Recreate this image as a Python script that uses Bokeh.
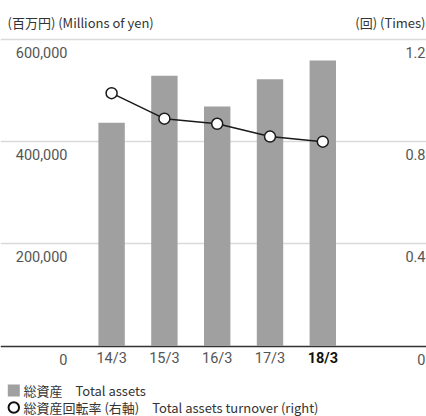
from bokeh.plotting import figure
from bokeh.models import Range1d, ColumnDataSource
from bokeh.core.properties import value
from bokeh.embed import file_html
from bokeh.resources import INLINE

# ---- data ----
categories = ["14/3", "15/3", "16/3", "17/3", "18/3"]
total_assets = [437000, 529000, 469000, 522000, 559000]
turnover = [0.99, 0.89, 0.87, 0.82, 0.80]
left_ticks = [0, 200000, 400000, 600000]
left_labels = ["0", "200,000", "400,000", "600,000"]
right_ticks = [0, 0.4, 0.8, 1.2]
right_labels = ["0", "0.4", "0.8", "1.2"]
title_left = "(百万円) (Millions of yen)"
title_right = "(回) (Times)"
legend_labels = ["総資産　Total assets", "総資産回転率 (右軸)　Total assets turnover (right)"]

# ---- layout helpers (picture pixel -> data) ----
W, H = 426, 416
X0, DX = 111.1, 52.8              # pixel x of first category, px per category
Y0, PXU = 345.5, 102.17 / 200000  # pixel y of zero, px per yen
RATIO = 500000                    # left units per right unit

def sx(px):
    return (px - X0) / DX

def sy(py):
    return (Y0 - py) / PXU

x_start, x_end = sx(0), sx(W)
y_start, y_end = sy(H), sy(0)

p = figure(width=W, height=H, x_range=Range1d(x_start, x_end),
           y_range=Range1d(y_start, y_end), min_border=0,
           x_axis_location=None, y_axis_location=None,
           toolbar_location=None, output_backend="svg")
p.outline_line_color = None
p.xgrid.visible = False
p.ygrid.visible = False
p.extra_y_ranges = {"r": Range1d(y_start / RATIO, y_end / RATIO)}

NUMFONT = value("Roboto")
JPFONT = value("Noto Sans CJK JP")
TICKCOLOR = "#555555"

# grid lines and zero line
p.hspan(y=left_ticks[1:], line_color="#dadada", line_width=1.5)
p.hspan(y=[left_ticks[0]], line_color="#333333", line_width=1.5)

idx = list(range(len(categories)))
src = ColumnDataSource(dict(x=idx, cat=categories, assets=total_assets, turn=turnover,
                            style=["normal"] * 4 + ["bold"],
                            color=[TICKCOLOR] * 4 + ["#111111"]))

p.vbar(x="x", top="assets", width=0.5, source=src, fill_color="#a0a0a0", line_color=None)
p.line(x="x", y="turn", source=src, y_range_name="r", line_color="#1a1a1a", line_width=1.5)
p.scatter(x="x", y="turn", source=src, y_range_name="r", size=11, fill_color="white",
          line_color="#1a1a1a", line_width=1.5)

# left tick labels (below each grid line)
p.text(x=[x_start] * len(left_ticks), y=left_ticks, text=left_labels, x_offset=67, y_offset=13,
       text_align="right", text_baseline="middle", text_font=NUMFONT,
       text_font_size="14.5px", text_color=TICKCOLOR)
# right tick labels
p.text(x=[x_end] * len(right_ticks), y=right_ticks, text=right_labels, x_offset=-1, y_offset=13,
       y_range_name="r", text_align="right", text_baseline="middle", text_font=NUMFONT,
       text_font_size="14.5px", text_color=TICKCOLOR)
# category labels
p.text(x="x", y=0, text="cat", source=src, y_offset=12.5, text_align="center",
       text_baseline="middle", text_font=NUMFONT, text_font_size="14.5px",
       text_font_style="style", text_color="color")

# unit titles
p.text(x=[x_start], y=[sy(21.5)], text=[title_left], x_offset=7, text_align="left",
       text_baseline="middle", text_font=JPFONT, text_font_size="13px", text_color="#333333")
p.text(x=[x_end], y=[sy(21.5)], text=[title_right], x_offset=-1, text_align="right",
       text_baseline="middle", text_font=JPFONT, text_font_size="13px", text_color="#333333")

# legend
p.scatter(x=[sx(13.3)], y=[sy(390)], marker="square", size=12, fill_color="#a0a0a0", line_color=None)
p.scatter(x=[sx(13.3)], y=[sy(407)], size=10.5, fill_color="white", line_color="#111111", line_width=2)
p.text(x=[sx(23)] * 2, y=[sy(390), sy(407)], text=legend_labels, text_align="left",
       text_baseline="middle", text_font=JPFONT, text_font_size="13px", text_color="#333333")

open("out.html", "w").write(file_html(p, INLINE))
